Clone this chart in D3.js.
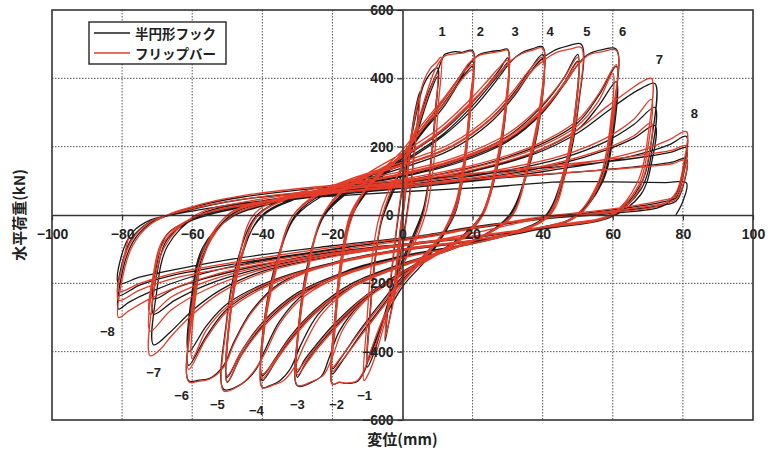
<!DOCTYPE html>
<html><head><meta charset="utf-8">
<script src="https://cdn.jsdelivr.net/npm/d3@7"></script>
<style>body{margin:0;background:#fff}svg{display:block}</style>
</head><body><svg id="c" width="774" height="452"></svg>
<script>
const xTicks=[-100,-80,-60,-40,-20,0,20,40,60,80,100];
const yTicks=[-600,-400,-200,0,200,400,600];
const seriesNames=["半円形フック","フリップバー"];

// 半円形フック (black)
const hookPre=[[0,0],[1.2,130],[2.5,230],[1.8,150],[0,-10],[-1.3,-140],[-2.5,-240],[-1.8,-150],[0,10],[1.5,150],[3.5,300],[5,360],[4,250],[2,60],[0,-80],[-2.5,-240],[-4,-320],[-5,-370],[-4,-260],[-2,-70],[0,80],[3,250],[6,380],[8,415],[10,430]];
const hook10=[[9.3,300],[8,150],[6,20],[3,-60],[0,-130],[-3,-220],[-6,-330],[-8,-400],[-10,-445],
[-9.3,-300],[-8,-150],[-6,-20],[-3,60],[0,120],[3,200],[6,300],[8,360],[10,405],
[9.3,280],[8,140],[6,10],[3,-70],[0,-140],[-3,-220],[-6,-320],[-8,-380],[-10,-420]];
const hook20=[[-9.3,-290],[-8,-140],[-6,-20],[-3,70],[0,140],[4,250],[7,350],[10,420],[12,470],[13,474],[15,478],[17,476],[20,481],
[19.2,320],[17.5,150],[15,20],[11,-70],[6,-140],[0,-210],[-5,-300],[-9,-400],[-11,-460],[-13,-488],[-16,-493],[-18,-490],[-20,-495],
[-19.2,-320],[-17.5,-150],[-15,-20],[-11,60],[-6,120],[0,180],[6,260],[12,340],[16,400],[18,430],[20,450],
[19.2,300],[17.5,140],[15,10],[11,-70],[6,-130],[0,-190],[-6,-270],[-12,-350],[-16,-410],[-18,-440],[-20,-465],
[-19.2,-300],[-17.5,-140],[-15,-15],[-11,55],[-6,110],[0,165],[6,245],[12,320],[16,385],[18,415],[20,435],
[19.2,290],[17.5,130],[15,5],[11,-65],[6,-120],[0,-180],[-6,-255],[-12,-335],[-16,-395],[-18,-425],[-20,-450]];
const hook30=[[-19.2,-290],[-17.5,-130],[-15,-10],[-11,60],[-6,115],[0,170],[6,250],[12,330],[16,390],[19,440],[22,470],[25,478],[28,482],[30,485],
[29.2,300],[26.5,130],[22.5,0],[16,-70],[8,-120],[-2,-180],[-12,-260],[-18,-340],[-21,-420],[-23,-470],[-26,-490],[-30,-500],
[-29.2,-300],[-26.5,-130],[-22.5,0],[-16,70],[-8,120],[2,180],[12,250],[20,330],[25,390],[28,430],[30,460],
[29.2,285],[26.5,120],[22.5,-5],[16,-75],[8,-125],[-2,-185],[-12,-255],[-20,-335],[-25,-395],[-28,-440],[-30,-475],
[-29.2,-290],[-26.5,-125],[-22.5,-5],[-16,65],[-8,112],[2,170],[12,240],[20,320],[25,380],[28,418],[30,445],
[29.2,275],[26.5,115],[22.5,-5],[16,-72],[8,-120],[-2,-178],[-12,-248],[-20,-325],[-25,-385],[-28,-425],[-30,-460]];
const hook40=[[-29.2,-280],[-26.5,-120],[-22.5,-5],[-16,62],[-8,110],[2,165],[12,235],[20,310],[25,370],[28,410],[31,450],[34,475],[37,486],[40,492],
[39.2,310],[35.5,130],[30.5,0],[23,-60],[12,-105],[0,-145],[-14,-205],[-24,-290],[-29,-380],[-32,-450],[-35,-485],[-38,-500],[-40,-505],
[-39.2,-310],[-35.5,-130],[-30.5,0],[-23,60],[-12,105],[0,145],[14,200],[25,280],[32,360],[36,420],[40,470],
[39.2,295],[35.5,125],[30.5,-5],[23,-62],[12,-108],[0,-148],[-14,-205],[-25,-285],[-32,-365],[-36,-425],[-40,-485],
[-39.2,-300],[-35.5,-125],[-30.5,-5],[-23,55],[-12,100],[0,138],[14,192],[25,270],[32,350],[36,410],[40,455],
[39.2,285],[35.5,120],[30.5,-5],[23,-60],[12,-104],[0,-142],[-14,-198],[-25,-278],[-32,-355],[-36,-415],[-40,-470]];
const hook50=[[-39.2,-290],[-35.5,-120],[-30.5,-5],[-23,55],[-12,100],[0,138],[14,192],[25,270],[32,350],[36,410],[39,450],[43,480],[47,494],[51,500],
[50.2,320],[47,140],[41.5,0],[32,-50],[18,-85],[0,-120],[-15,-160],[-28,-230],[-35,-310],[-39,-390],[-42,-455],[-46,-495],[-51,-510],
[-50.2,-310],[-47,-130],[-41.5,0],[-32,50],[-18,85],[0,120],[15,160],[30,230],[40,320],[46,400],[50,470],
[49.2,300],[46,125],[40.5,-5],[31,-52],[17,-88],[0,-122],[-15,-165],[-30,-235],[-40,-325],[-46,-410],[-50,-490],
[-49.2,-300],[-46,-125],[-40.5,-5],[-31,48],[-17,82],[0,115],[15,155],[30,220],[40,305],[46,385],[50,450],
[49.2,285],[46,118],[40.5,-8],[31,-55],[17,-90],[0,-122],[-15,-162],[-30,-228],[-40,-315],[-46,-400],[-50,-475]];
const hook60=[[-49.2,-290],[-46,-118],[-40.5,-8],[-31,45],[-17,80],[0,112],[15,150],[30,215],[40,300],[46,380],[50,440],[53,470],[57,484],[61,485],
[60.2,300],[57,120],[50,0],[38,-40],[20,-75],[0,-100],[-20,-140],[-35,-200],[-43,-280],[-48,-370],[-51,-440],[-55,-478],[-58,-483],[-61,-485],
[-60.2,-300],[-57,-120],[-49,0],[-36,42],[-18,75],[0,100],[20,140],[38,200],[50,270],[56,350],[61,435],
[60.2,270],[57,105],[49,-5],[36,-45],[18,-78],[0,-102],[-20,-140],[-38,-200],[-50,-275],[-56,-355],[-61,-440],
[-60.2,-270],[-57,-105],[-49,-5],[-36,38],[-18,70],[0,95],[20,130],[38,185],[50,250],[56,320],[61,390],
[60.2,240],[57,95],[49,-8],[36,-48],[18,-80],[0,-104],[-20,-140],[-38,-195],[-50,-260],[-56,-325],[-61,-400]];
const hook70=[[-60.2,-240],[-57,-95],[-49,-8],[-36,36],[-18,68],[0,92],[20,128],[38,180],[50,240],[58,300],[64,345],[68,370],[72,385],
[71.2,230],[68,90],[60,0],[45,-30],[25,-60],[0,-90],[-20,-120],[-40,-165],[-52,-220],[-60,-280],[-66,-340],[-71,-380],
[-70.2,-230],[-67,-90],[-58,0],[-42,38],[-20,68],[0,88],[25,122],[45,165],[58,215],[66,265],[72,315],
[71.2,190],[68,75],[59,-5],[42,-35],[22,-62],[0,-88],[-22,-118],[-42,-160],[-56,-205],[-65,-250],[-71,-290],
[-70.2,-180],[-67,-70],[-58,-5],[-42,32],[-20,62],[0,82],[25,112],[45,150],[58,190],[66,225],[72,262],
[71.2,160],[68,60],[59,-8],[42,-38],[22,-62],[0,-85],[-22,-112],[-42,-150],[-56,-185],[-65,-215],[-71,-245]];
const hook80=[[-70.2,-150],[-67,-55],[-58,-8],[-42,30],[-20,58],[0,78],[25,105],[45,135],[60,160],[70,185],[76,205],[81,230],
[80.2,140],[78,60],[74,25],[60,5],[40,-12],[20,-40],[0,-70],[-25,-110],[-46,-145],[-60,-180],[-72,-225],[-78,-255],[-81,-275],
[-80.2,-180],[-77,-80],[-72,-25],[-66,2],[-55,35],[-46,52],[-25,78],[0,98],[30,128],[55,152],[70,172],[77,185],[81,197],
[80.2,120],[78,50],[75,40],[60,15],[40,-8],[20,-38],[7,-62],[-20,-100],[-46,-140],[-65,-175],[-75,-205],[-81,-235],
[-80.2,-150],[-77,-65],[-72,-20],[-66,0],[-55,28],[-46,45],[-25,68],[0,85],[30,110],[55,130],[70,145],[77,155],[81,165],
[80.2,90],[78,40],[75,30],[60,10],[40,-10],[20,-35],[7,-58],[-20,-90],[-46,-125],[-65,-160],[-75,-182],[-81,-200],
[-80.2,-120],[-77,-50],[-72,-15],[-66,0],[-55,20],[-46,35],[-20,55],[0,68],[25,82],[45,97],[60,97],[75,95],[81,94],
[80,40],[78,0]];

// フリップバー (red)
const flipPre=[[0,0],[1.2,120],[2.5,220],[1.7,140],[0,-15],[-1.3,-130],[-2.5,-230],[-1.7,-140],[0,15],[1.6,150],[3.5,290],[5,350],[4,240],[2,50],[0,-90],[-2.5,-250],[-4,-320],[-5,-360],[-4,-250],[-2,-60],[0,90],[3,260],[6,390],[8,430],[9.5,445],[11,462]];
const flip10=[[10.2,320],[9,160],[7,20],[4,-70],[0,-150],[-3,-240],[-6,-350],[-8,-420],[-9.5,-460],[-11,-485],
[-10.2,-320],[-9,-160],[-7,-20],[-4,70],[0,140],[3,220],[6,310],[8,370],[10,415],
[9.3,290],[8,140],[6,5],[3,-80],[0,-150],[-3,-230],[-6,-330],[-8,-390],[-10,-430]];
const flip20=[[-9.3,-300],[-8,-150],[-6,-10],[-3,80],[0,150],[4,260],[7,360],[9.5,430],[12,465],[14,470],[17,474],[20,478],
[19.2,330],[17.5,160],[15,30],[11,-60],[6,-130],[0,-200],[-5,-290],[-9,-395],[-11,-455],[-13,-485],[-16,-492],[-18,-489],[-20,-495],
[-19.2,-330],[-17.5,-160],[-15,-25],[-11,70],[-6,130],[0,190],[6,270],[12,345],[16,400],[18,425],[20,440],
[19.2,295],[17.5,135],[15,15],[11,-60],[6,-125],[0,-195],[-6,-275],[-12,-355],[-16,-410],[-18,-435],[-20,-458],
[-19.2,-300],[-17.5,-140],[-15,-10],[-11,65],[-6,120],[0,175],[6,255],[12,328],[16,385],[18,410],[20,425],
[19.2,285],[17.5,125],[15,10],[11,-60],[6,-118],[0,-185],[-6,-262],[-12,-340],[-16,-395],[-18,-422],[-20,-445]];
const flip30=[[-19.2,-290],[-17.5,-125],[-15,0],[-11,70],[-6,125],[0,180],[6,260],[12,340],[16,398],[19,445],[22,468],[25,474],[28,479],[30,482],
[29.2,310],[26.5,140],[23,10],[17,-65],[9,-115],[-1,-175],[-11,-255],[-17,-335],[-20,-415],[-22.5,-468],[-26,-488],[-30,-498],
[-29.2,-310],[-26.5,-140],[-23,-5],[-17,75],[-9,128],[1,188],[11,258],[19,335],[24,390],[27,425],[30,452],
[29.2,290],[26.5,125],[23,0],[17,-70],[9,-122],[-1,-182],[-11,-250],[-19,-330],[-24,-388],[-27,-428],[-30,-468],
[-29.2,-295],[-26.5,-130],[-23,-5],[-17,70],[-9,120],[1,178],[11,248],[19,325],[24,378],[27,412],[30,438],
[29.2,280],[26.5,120],[23,0],[17,-68],[9,-118],[-1,-175],[-11,-242],[-19,-320],[-24,-378],[-27,-418],[-30,-452]];
const flip40=[[-29.2,-285],[-26.5,-125],[-23,-5],[-17,68],[-9,118],[1,175],[11,245],[19,320],[24,375],[28,420],[31,452],[34,472],[37,482],[40,488],
[39.2,320],[35.5,140],[31.5,5],[24,-55],[13,-100],[0,-145],[-14,-210],[-23,-290],[-28,-380],[-31,-448],[-34,-485],[-37,-498],[-40,-505],
[-39.2,-320],[-35.5,-140],[-31.5,-5],[-24,65],[-13,112],[0,155],[14,210],[25,290],[32,368],[36,422],[40,462],
[39.2,300],[35.5,130],[31.5,0],[24,-58],[13,-104],[0,-150],[-14,-210],[-25,-290],[-32,-370],[-36,-425],[-40,-478],
[-39.2,-305],[-35.5,-130],[-31.5,-5],[-24,60],[-13,108],[0,148],[14,202],[25,280],[32,355],[36,410],[40,448],
[39.2,290],[35.5,125],[31.5,0],[24,-55],[13,-100],[0,-145],[-14,-203],[-25,-282],[-32,-360],[-36,-418],[-40,-465]];
const flip50=[[-39.2,-295],[-35.5,-125],[-31.5,-5],[-24,58],[-13,105],[0,145],[14,200],[25,278],[32,355],[36,412],[40,450],[44,476],[48,486],[51,490],
[50.2,330],[47,150],[42.5,5],[33,-48],[18,-88],[0,-125],[-15,-168],[-28,-238],[-35,-318],[-39,-400],[-43,-465],[-47,-502],[-51,-515],
[-50.2,-320],[-47,-140],[-42.5,0],[-33,55],[-18,92],[0,128],[15,168],[30,238],[40,325],[46,400],[50,462],
[49.2,300],[46,130],[41.5,0],[32,-50],[17,-90],[0,-126],[-15,-170],[-30,-240],[-40,-330],[-46,-412],[-50,-488],
[-49.2,-305],[-46,-130],[-41.5,-5],[-32,52],[-17,88],[0,122],[15,162],[30,228],[40,310],[46,385],[50,446],
[49.2,290],[46,122],[41.5,-5],[32,-52],[17,-90],[0,-125],[-15,-165],[-30,-232],[-40,-318],[-46,-400],[-50,-470]];
const flip60=[[-49.2,-290],[-46,-120],[-41.5,-5],[-32,50],[-17,85],[0,118],[15,158],[30,222],[40,305],[46,382],[50,438],[53,468],[57,478],[61,482],
[60.2,310],[57,130],[51,5],[39,-38],[21,-72],[0,-100],[-20,-142],[-35,-205],[-43,-285],[-48,-375],[-51,-445],[-55,-480],[-58,-486],[-61,-488],
[-60.2,-310],[-57,-130],[-50,0],[-37,45],[-18,80],[0,105],[20,145],[38,205],[50,278],[56,355],[61,440],
[60.2,280],[57,110],[50,-2],[37,-42],[19,-76],[0,-104],[-20,-145],[-38,-205],[-50,-282],[-56,-362],[-61,-452],
[-60.2,-280],[-57,-110],[-50,-2],[-37,42],[-18,76],[0,100],[20,138],[38,195],[50,262],[56,335],[60,415],
[59.2,255],[56,100],[49,-5],[36,-45],[18,-78],[0,-104],[-20,-142],[-38,-198],[-50,-268],[-56,-338],[-60,-420]];
const flip70=[[-59.2,-255],[-56,-100],[-49,-5],[-36,40],[-18,72],[0,96],[20,132],[38,186],[50,250],[58,315],[64,360],[68,388],[71,400],
[70.2,245],[67,95],[60,5],[45,-28],[25,-58],[0,-90],[-20,-122],[-40,-170],[-52,-228],[-60,-292],[-66,-355],[-69,-392],[-72,-412],
[-71.2,-245],[-68,-95],[-59,0],[-43,42],[-21,72],[0,92],[25,128],[45,172],[58,225],[66,280],[71,338],
[70.2,210],[67,80],[59,-2],[42,-32],[22,-60],[0,-90],[-22,-120],[-42,-165],[-56,-218],[-66,-278],[-72,-340],
[-71.2,-200],[-68,-78],[-59,-5],[-43,35],[-21,65],[0,86],[25,116],[45,155],[58,195],[66,232],[71,270],
[70.2,170],[67,65],[59,-5],[42,-35],[22,-60],[0,-86],[-22,-115],[-42,-155],[-56,-195],[-66,-240],[-72,-290]];
const flip80=[[-71.2,-180],[-68,-68],[-59,-5],[-43,32],[-21,62],[0,82],[25,110],[45,140],[60,168],[70,195],[76,220],[81,244],
[80.2,150],[78,65],[74,30],[60,8],[40,-10],[20,-53],[5,-82],[-25,-120],[-46,-155],[-60,-195],[-72,-245],[-78,-280],[-81,-300],
[-80.2,-200],[-77,-90],[-72,-28],[-66,5],[-55,38],[-46,56],[-25,82],[0,102],[30,132],[55,158],[70,178],[77,190],[81,203],
[80.2,125],[78,55],[75,45],[60,18],[40,-5],[20,-40],[7,-65],[-20,-105],[-46,-148],[-65,-185],[-75,-220],[-81,-250],
[-80.2,-160],[-77,-70],[-72,-20],[-66,3],[-55,30],[-46,46],[-25,70],[0,88],[30,112],[55,130],[70,142],[77,150],[81,162],
[80.2,95],[78,45],[75,35],[60,12],[40,-10],[20,-38],[7,-60],[-20,-95],[-46,-135],[-65,-170],[-75,-200],[-81,-224],
[-80,-150],[-78,-60]];

// cycle annotations (text, displacement, load)
const cycleLabels=[["1",11.3,536],["2",22.2,536],["3",32.1,536],["4",42.1,536],["5",52.6,536],["6",62.8,536],["7",73.3,454],["8",83.3,296],
["−1",-10.8,-527],["−2",-18.8,-556],["−3",-30,-556],["−4",-41.7,-571],["−5",-52.8,-556],["−6",-63,-527],["−7",-71,-462],["−8",-84.2,-342]];

const hookPath=[].concat(hookPre,hook10,hook20,hook30,hook40,hook50,hook60,hook70,hook80);
const flipPath=[].concat(flipPre,flip10,flip20,flip30,flip40,flip50,flip60,flip70,flip80);

const svg=d3.select("#c");
const x=d3.scaleLinear().domain([-100,100]).range([52,753]);
const y=d3.scaleLinear().domain([-600,600]).range([420,10]);
const fmt=d=>d<0?"−"+Math.abs(d):String(d);
const numFont="'Liberation Sans',Arial,sans-serif";
const jpFont="'Noto Sans CJK JP','Noto Sans',sans-serif";

// grid
const g=svg.append("g");
g.selectAll("line.gx").data(xTicks.filter(d=>d!==0&&Math.abs(d)!==100)).join("line")
 .attr("x1",d=>x(d)).attr("x2",d=>x(d)).attr("y1",y(600)).attr("y2",y(-600))
 .attr("stroke","#555").attr("stroke-width",1).attr("stroke-dasharray","1.5,1.5");
g.selectAll("line.gy").data(yTicks.filter(d=>d!==0&&Math.abs(d)!==600)).join("line")
 .attr("y1",d=>y(d)).attr("y2",d=>y(d)).attr("x1",x(-100)).attr("x2",x(100))
 .attr("stroke","#555").attr("stroke-width",1).attr("stroke-dasharray","1.5,1.5");

// hysteresis
const line=d3.line().x(d=>x(d[0])).y(d=>y(d[1])).curve(d3.curveCatmullRom.alpha(0.5));
svg.append("path").datum(hookPath).attr("d",line).attr("fill","none").attr("stroke","#1a1a1a").attr("stroke-width",1.3).attr("stroke-linejoin","round");
svg.append("path").datum(flipPath).attr("d",line).attr("fill","none").attr("stroke","#e43c28").attr("stroke-width",1.3).attr("stroke-linejoin","round");

// axes through origin
const ya=svg.append("g").attr("transform",`translate(${x(0)},0)`)
 .call(d3.axisLeft(y).tickValues(yTicks).tickSize(5).tickSizeOuter(0).tickPadding(4).tickFormat(fmt));
const xa=svg.append("g").attr("transform",`translate(0,${y(0)})`)
 .call(d3.axisBottom(x).tickValues(xTicks).tickSize(5).tickSizeOuter(0).tickPadding(9).tickFormat(fmt));
[ya,xa].forEach(a=>{
 a.select(".domain").attr("stroke","#333").attr("stroke-width",1.6);
 a.selectAll(".tick line").attr("stroke","#333").attr("stroke-width",1.2);
 a.selectAll(".tick text").attr("font-family",numFont).attr("font-size",14).attr("font-weight","bold").attr("fill","#222");
});

// frame
svg.append("rect").attr("x",x(-100)).attr("y",y(600)).attr("width",x(100)-x(-100)).attr("height",y(-600)-y(600))
 .attr("fill","none").attr("stroke","#333").attr("stroke-width",1.6);

// cycle labels
svg.append("g").selectAll("text").data(cycleLabels).join("text")
 .attr("x",d=>x(d[1])).attr("y",d=>y(d[2])).attr("text-anchor","middle").attr("dominant-baseline","central")
 .attr("font-family",numFont).attr("font-size",13).attr("font-weight","bold").attr("fill","#222").text(d=>d[0]);

// legend
const lg=svg.append("g");
lg.append("rect").attr("x",89).attr("y",22).attr("width",137).attr("height",42).attr("fill","#fff").attr("stroke","#333").attr("stroke-width",1.5);
const colors=["#1a1a1a","#e43c28"];
seriesNames.forEach((n,i)=>{
 lg.append("line").attr("x1",94).attr("x2",130).attr("y1",33+i*20).attr("y2",33+i*20).attr("stroke",colors[i]).attr("stroke-width",1.3);
 lg.append("text").attr("x",135).attr("y",33+i*20).attr("dominant-baseline","central").attr("font-family",jpFont)
  .attr("font-size",13.5).attr("font-weight","bold").attr("fill","#222").text(n);
});

// axis titles
svg.append("text").attr("transform",`translate(18,${y(0)}) rotate(-90)`).attr("text-anchor","middle").attr("dominant-baseline","central")
 .attr("font-family",jpFont).attr("font-size",15).attr("font-weight","bold").attr("fill","#222").text("水平荷重(kN)");
svg.append("text").attr("x",x(0)).attr("y",438).attr("text-anchor","middle").attr("dominant-baseline","central")
 .attr("font-family",jpFont).attr("font-size",15).attr("font-weight","bold").attr("fill","#222").text("変位(mm)");
</script></body></html>
